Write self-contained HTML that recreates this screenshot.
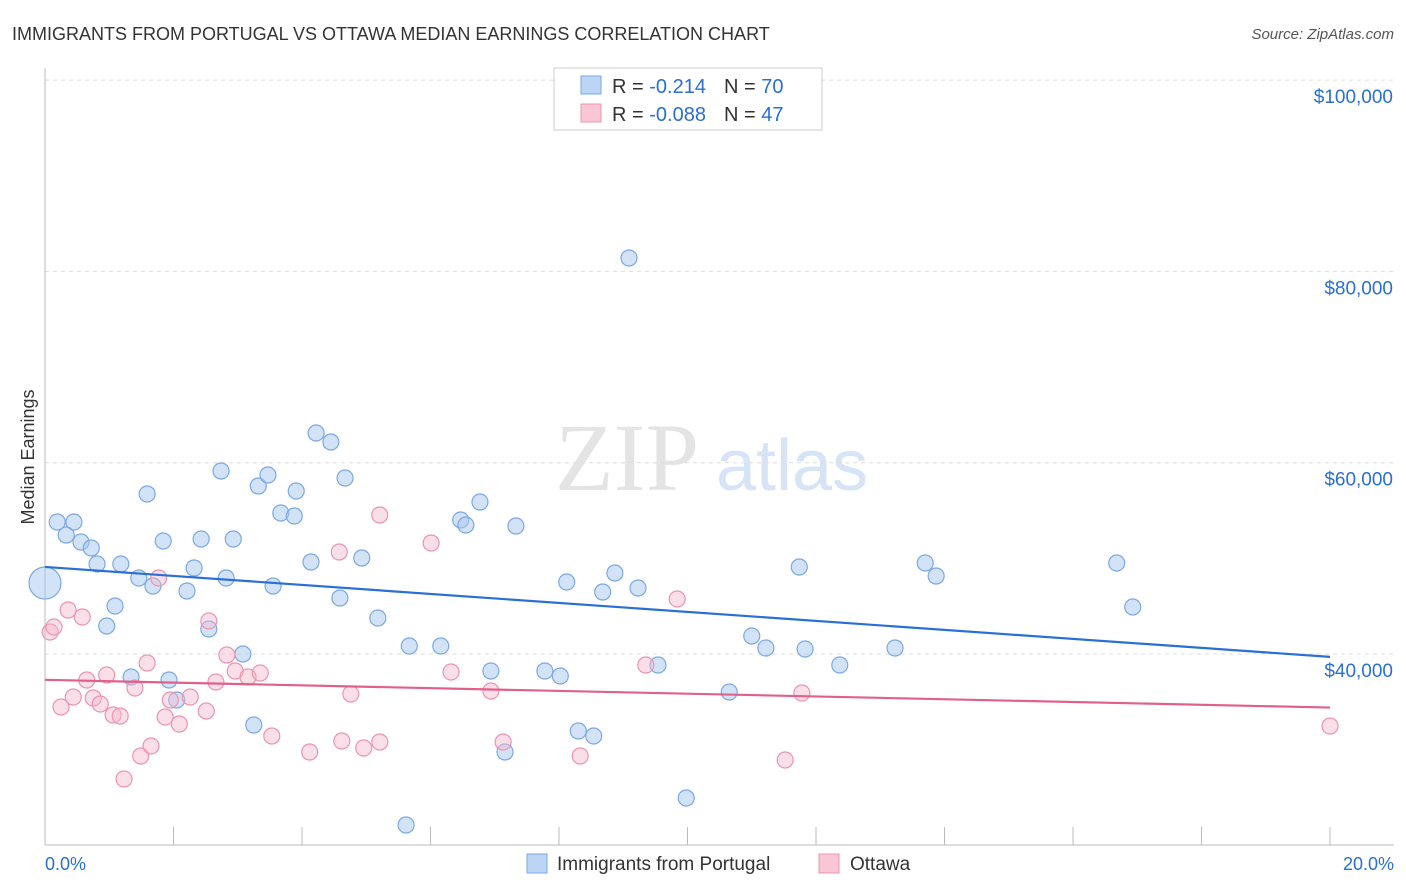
<!DOCTYPE html>
<html><head><meta charset="utf-8"><style>
body{margin:0;background:#fff;font-family:"Liberation Sans",sans-serif;}
svg{display:block}
</style></head><body>
<svg id="chart" width="1406" height="892">
<text x="12" y="40" font-size="18" fill="#333">IMMIGRANTS FROM PORTUGAL VS OTTAWA MEDIAN EARNINGS CORRELATION CHART</text>
<text x="1394" y="39" font-size="15" fill="#555" font-style="italic" text-anchor="end">Source: ZipAtlas.com</text>
<text x="555" y="490" font-size="96" fill="#e4e4e4" font-family="Liberation Serif">ZIP</text>
<text x="716" y="490" font-size="72" fill="#d6e4f5">atlas</text>
<text transform="translate(34,457) rotate(-90)" font-size="18" fill="#333" text-anchor="middle">Median Earnings</text>
<g id="grid"></g><g id="ticks"></g><g id="pts"></g><g id="lines"></g>
<rect x="554" y="68" width="268" height="62" fill="#fff" stroke="#ccc"/>
<rect x="581" y="76" width="20" height="18" fill="#bcd5f5" stroke="#7aa8e6"/>
<rect x="581" y="104" width="20" height="18" fill="#f9c6d6" stroke="#ec94b0"/>
<text x="612" y="93" font-size="20" fill="#333">R = <tspan fill="#2a6fd6"> -0.214</tspan><tspan dx="18">N = </tspan><tspan fill="#2a6fd6">70</tspan></text>
<text x="612" y="121" font-size="20" fill="#333">R = <tspan fill="#2a6fd6">-0.088</tspan><tspan dx="18">N = </tspan><tspan fill="#2a6fd6">47</tspan></text>
<text x="45" y="870" font-size="18" fill="#2a6fd6">0.0%</text>
<text x="1394" y="870" font-size="18" fill="#2a6fd6" text-anchor="end">20.0%</text>
<rect x="527" y="854" width="20" height="19" fill="#bcd5f5" stroke="#7aa8e6"/>
<text x="557" y="870" font-size="19" fill="#333">Immigrants from Portugal</text>
<rect x="819" y="854" width="20" height="19" fill="#f9c6d6" stroke="#ec94b0"/>
<text x="850" y="870" font-size="19" fill="#333">Ottawa</text>
</svg>
<script>
const yTicks=[40000,60000,80000,100000];
const yTickLabels=["$40,000","$60,000","$80,000","$100,000"];
const xTicks=[0,2,4,6,8,10,12,14,16,18,20];
const bluePx=[[45,583],[57,522],[74,522],[66,535],[81,542],[91,548],[97,564],[121,564],[107,626],[115,606],[139,578],[147,494],[153,586],[131,677],[163,541],[169,680],[177,700],[187,591],[194,568],[201,539],[209,629],[221,471],[226,578],[233,539],[243,654],[254,725],[258,486],[268,475],[273,586],[281,513],[294,516],[296,491],[311,562],[316,433],[331,442],[340,598],[345,478],[362,558],[378,618],[406,825],[409,646],[441,646],[461,520],[466,525],[480,502],[491,671],[505,752],[516,526],[545,671],[560,676],[567,582],[578,731],[594,736],[603,592],[615,573],[638,588],[629,258],[658,665],[686,798],[729,692],[752,636],[766,648],[799,567],[805,649],[840,665],[895,648],[925,563],[936,576],[1117,563],[1133,607]];
const pinkPx=[[50,632],[54,627],[61,707],[68,610],[73,697],[82,617],[87,680],[93,698],[100,704],[107,675],[113,715],[120,716],[124,779],[135,688],[141,756],[147,663],[151,746],[159,578],[165,717],[170,700],[179,724],[190,697],[206,711],[209,621],[216,682],[227,655],[235,671],[248,677],[260,673],[272,736],[310,752],[339,552],[342,741],[351,694],[364,748],[380,742],[380,515],[431,543],[451,672],[491,691],[503,742],[580,756],[646,665],[677,599],[785,760],[802,693],[1330,726]];
// convert read positions to data values
const blueX=bluePx.map(p=>+((p[0]-45)/64.25).toFixed(2));
const blueY=bluePx.map(p=>Math.round(40000+(654-p[1])*104.55));
const pinkX=pinkPx.map(p=>+((p[0]-45)/64.25).toFixed(2));
const pinkY=pinkPx.map(p=>Math.round(40000+(654-p[1])*104.55));
const blueTrend=[49100,39700];
const pinkTrend=[37300,34400];
const sx=v=>45+v*64.25, sy=v=>654-(v-40000)/104.55;
const NS="http://www.w3.org/2000/svg";
function mk(tag,attrs,parent){const e=document.createElementNS(NS,tag);for(const k in attrs)e.setAttribute(k,attrs[k]);document.getElementById(parent).appendChild(e);return e;}
yTicks.forEach((v,i)=>{
 const l=mk('line',{x1:45,x2:1394,y1:sy(v),y2:sy(v),stroke:'#ddd','stroke-dasharray':'4,4'},'grid');
 
 
 const t=mk('text',{x:1393,y:sy(v)+23,'font-size':19,fill:'#2a6fd6','text-anchor':'end'},'grid');
 t.textContent=yTickLabels[i];
 
 
});
const ax=mk('line',{x1:45,x2:1394,y1:845,y2:845,stroke:'#bbb'},'ticks');


const ay=mk('line',{x1:45,x2:45,y1:68,y2:845,stroke:'#bbb'},'ticks');


xTicks.forEach(v=>{const t=mk('line',{x1:sx(v),x2:sx(v),y1:827,y2:845,stroke:'#bbb'},'ticks');
 
 });
blueX.forEach((x,i)=>{const c=mk('circle',{cx:sx(x),cy:sy(blueY[i]),r:i==0?16:8,fill:'rgba(168,200,240,0.5)',stroke:'#7aa8e6','stroke-width':1.2},'pts');
 
 });
pinkX.forEach((x,i)=>{const c=mk('circle',{cx:sx(x),cy:sy(pinkY[i]),r:8,fill:'rgba(245,184,204,0.45)',stroke:'#ec94b0','stroke-width':1.2},'pts');
 
 });
const bl=mk('line',{x1:sx(0),x2:sx(20),y1:sy(blueTrend[0]),y2:sy(blueTrend[1]),stroke:'#2a6fd6','stroke-width':2.2},'lines');


const pl=mk('line',{x1:sx(0),x2:sx(20),y1:sy(pinkTrend[0]),y2:sy(pinkTrend[1]),stroke:'#e0608a','stroke-width':2.2},'lines');


</script>
</body></html>
